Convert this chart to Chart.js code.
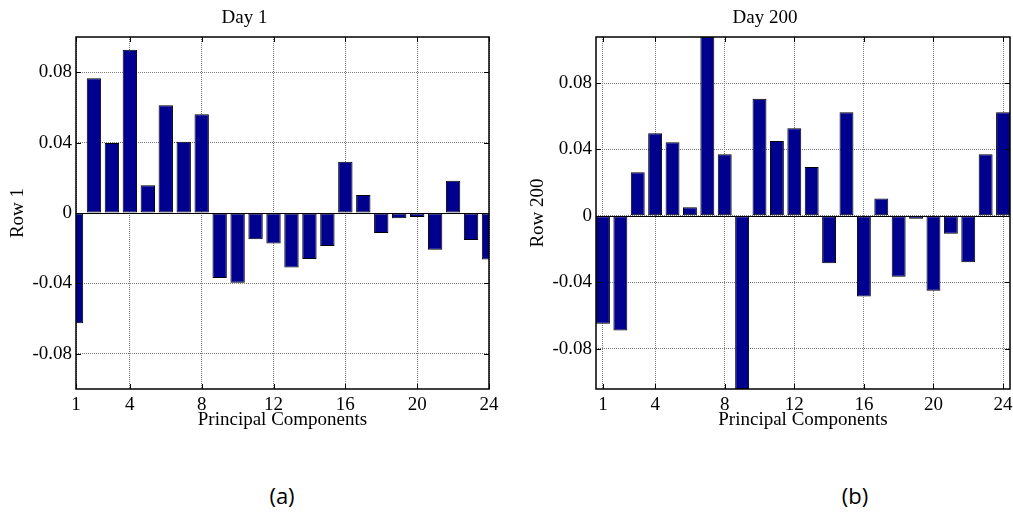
<!DOCTYPE html>
<html>
<head>
  <meta charset="UTF-8">
  <title>Principal components, Day 1 / Day 200</title>
  <script src="https://cdn.jsdelivr.net/npm/chart.js"></script>
  <style>
    body { margin: 0; background: #fff; width: 1013px; height: 514px; position: relative; overflow: hidden; }
    canvas { position: absolute; top: 0; }
    .cap { position: absolute; top: 480px; font: 22px "Open Sans", sans-serif; color: #000; transform: translateX(-50%); }
  </style>
</head>
<body>
  <canvas id="day1Chart" width="504" height="434" style="left:0"></canvas>
  <canvas id="day200Chart" width="493" height="434" style="left:520px"></canvas>
  <div class="cap" style="left:282px">(a)</div>
  <div class="cap" style="left:855px">(b)</div>
  <script>
    const components = [1, 2, 3, 4, 5, 6, 7, 8, 9, 10, 11, 12, 13, 14, 15, 16, 17, 18, 19, 20, 21, 22, 23, 24];
    const day1 = [-0.0626, 0.0765, 0.0398, 0.0927, 0.0158, 0.0612, 0.0405, 0.0561, -0.0370, -0.0396, -0.0149, -0.0173,
                  -0.0309, -0.0262, -0.0187, 0.0291, 0.0102, -0.0113, -0.0030, -0.0023, -0.0209, 0.0183, -0.0153, -0.0264];
    const day200 = [-0.0651, -0.0692, 0.0263, 0.0498, 0.0444, 0.0052, 0.1078, 0.0371, -0.1044, 0.0706, 0.0451, 0.0528,
                    0.0295, -0.0286, 0.0624, -0.0487, 0.0104, -0.0367, -0.0018, -0.0451, -0.0108, -0.0280, 0.0371, 0.0624];
    const xTicks = [1, 4, 8, 12, 16, 20, 24];
    const yTicks = [-0.08, -0.04, 0, 0.04, 0.08];

    const serif = 'Liberation Serif, Times New Roman, serif';

    // box round the axes, inner tick marks and the bar baseline
    const frame = {
      id: 'frame',
      afterDatasetsDraw(chart) {
        const { ctx, chartArea: a, scales: { x, y } } = chart;
        ctx.save();
        ctx.strokeStyle = '#000';
        ctx.lineWidth = 1;
        const y0 = Math.round(y.getPixelForValue(0)) + 0.5;
        ctx.beginPath();
        ctx.moveTo(a.left, y0); ctx.lineTo(a.right, y0);
        x.ticks.forEach(t => {
          const px = Math.round(x.getPixelForValue(t.value)) + 0.5;
          ctx.moveTo(px, a.top); ctx.lineTo(px, a.top + 5);
          ctx.moveTo(px, a.bottom); ctx.lineTo(px, a.bottom - 5);
        });
        y.ticks.forEach(t => {
          const py = Math.round(y.getPixelForValue(t.value)) + 0.5;
          ctx.moveTo(a.left, py); ctx.lineTo(a.left + 5, py);
          ctx.moveTo(a.right, py); ctx.lineTo(a.right - 5, py);
        });
        ctx.stroke();
        ctx.lineWidth = 1.5;
        ctx.strokeRect(a.left, a.top, a.right - a.left, a.bottom - a.top);
        ctx.restore();
      }
    };

    function makeChart(id, title, yLabel, values, xMin, xMax) {
      return new Chart(document.getElementById(id), {
        type: 'bar',
        data: {
          datasets: [{
            data: components.map((c, i) => ({ x: c, y: values[i] })),
            backgroundColor: '#00008f',
            borderColor: '#000',
            borderWidth: 1,
            borderSkipped: false,
            barPercentage: 0.8,
            categoryPercentage: 1,
            clip: 0
          }]
        },
        plugins: [frame],
        options: {
          responsive: false,
          animation: false,
          layout: { padding: { left: 0, right: id === 'day1Chart' ? 15 : 3, top: 0, bottom: 0 } },
          plugins: {
            legend: { display: false },
            tooltip: { enabled: false },
            title: {
              display: true, text: title, color: '#000',
              font: { family: serif, size: 19, weight: 'normal' },
              padding: { top: 6.5, bottom: 7.7 }
            }
          },
          scales: {
            x: {
              type: 'linear', min: xMin, max: xMax, offset: false,
              afterBuildTicks: s => { s.ticks = xTicks.map(v => ({ value: v })); },
              afterFit: s => { s.height = 45; s.paddingLeft = 0; s.paddingRight = 0; },
              ticks: { autoSkip: false, maxRotation: 0, padding: 4.5, color: '#000', font: { family: serif, size: 19 } },
              grid: { offset: false, drawTicks: false, color: '#7a7a7a', lineWidth: 1 },
              border: { display: false, dash: [1, 1] },
              title: { display: true, text: 'Principal Components', color: '#000',
                       font: { family: serif, size: 19 }, padding: { top: 0, bottom: 3 } }
            },
            y: {
              min: Math.min(-0.1, ...values), max: Math.max(0.1, ...values),
              afterBuildTicks: s => { s.ticks = yTicks.map(v => ({ value: v })); },
              afterFit: s => { s.width = 76; s.paddingTop = 0; s.paddingBottom = 0; },
              ticks: { padding: 4, color: '#000', font: { family: serif, size: 19 },
                       callback: v => v === 0 ? '0' : v.toFixed(2) },
              grid: { drawTicks: false, color: '#7a7a7a', lineWidth: 1 },
              border: { display: false, dash: [1, 1] },
              title: { display: true, text: yLabel, color: '#000',
                       font: { family: serif, size: 19 }, padding: { top: 6.5, bottom: 0 } }
            }
          }
        }
      });
    }

    makeChart('day1Chart', 'Day 1', 'Row 1', day1, 1, 24);
    makeChart('day200Chart', 'Day 200', 'Row 200', day200, 0.6, 24.4);
  </script>
</body>
</html>
